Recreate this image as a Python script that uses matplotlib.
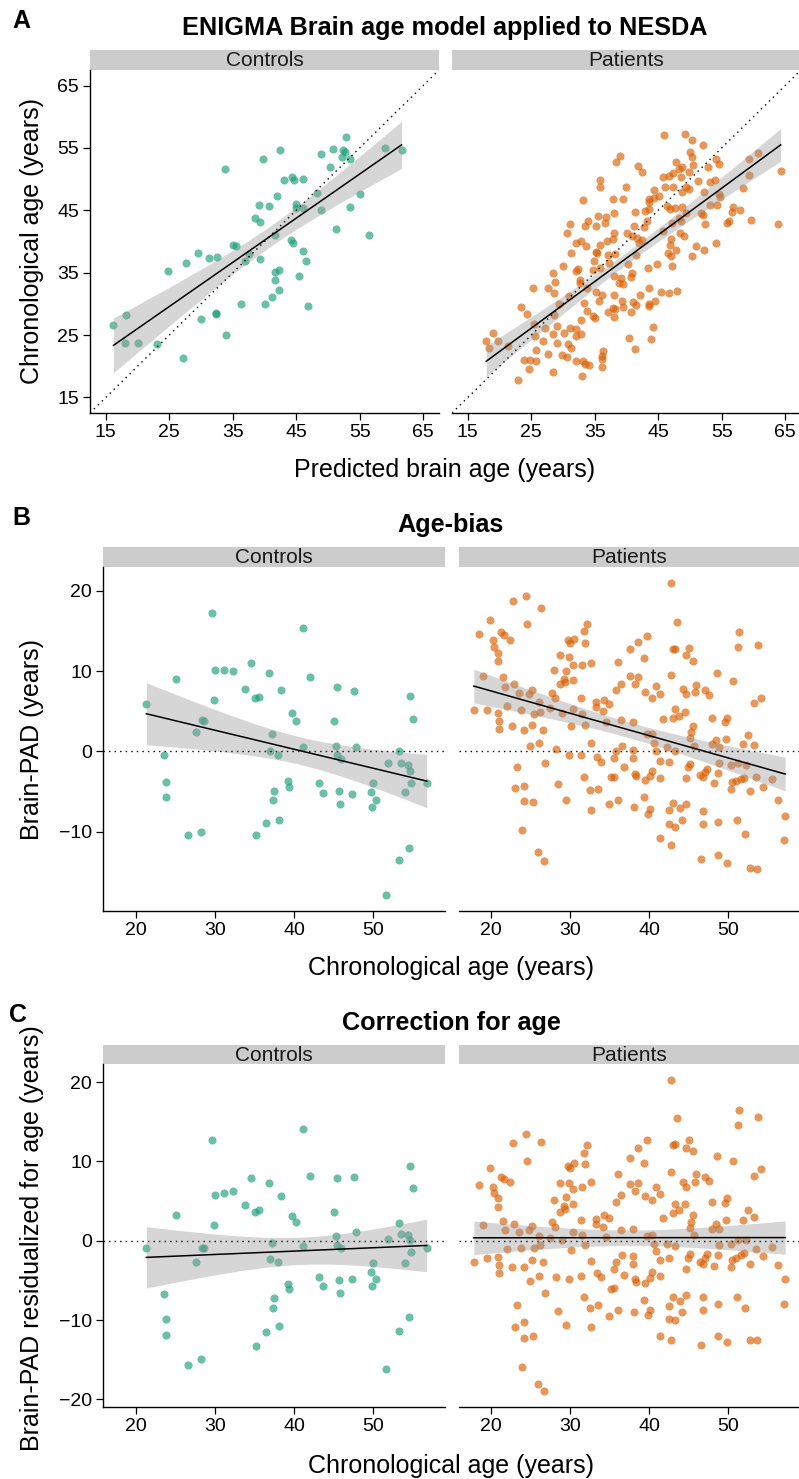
import numpy as np
import matplotlib.pyplot as plt

plt.rcParams['font.family'] = ['Liberation Sans', 'DejaVu Sans']

W, H = 799, 1479

# chronological age (years) and brain-PAD (predicted - chronological)
ctrl_age = [29.6, 41.1, 34.5, 30.0, 31.1, 32.3, 36.8, 42.0, 25.0, 33.8,
            38.4, 45.5, 47.6, 35.1, 35.5, 29.9, 54.7, 21.3, 39.7, 40.3,
            28.4, 28.6, 45.1, 55.0, 27.6, 37.2, 41.1, 45.3, 47.8, 36.9,
            53.3, 23.5, 38.0, 45.4, 46.0, 51.9, 53.6, 54.4, 54.7, 23.8,
            39.2, 39.4, 43.2, 50.0, 54.8, 56.8, 37.5, 43.7, 45.7, 47.3,
            49.8, 54.0, 23.8, 37.3, 50.4, 45.8, 49.9, 36.5, 38.1, 26.6,
            28.2, 35.2, 54.6, 53.3, 51.7]
ctrl_pad = [17.2, 15.3, 11.0, 10.1, 10.1, 10.0, 9.7, 9.2, 9.0, 7.8,
            7.6, 8.0, 7.5, 6.6, 6.75, 6.4, 6.9, 5.9, 4.75, 3.8,
            3.9, 3.8, 3.75, 4.0, 2.4, 2.1, 0.6, 0.7, 0.5, 0.1,
            0.1, -0.5, -0.5, -0.5, -1.0, -1.5, -1.4, -1.75, -2.4, -3.8,
            -3.7, -4.4, -3.9, -4.0, -4.0, -4.0, -5.0, -5.2, -5.0, -5.3,
            -5.1, -5.1, -5.75, -6.1, -6.1, -6.6, -6.9, -8.9, -8.6, -10.4,
            -10.1, -10.4, -12.1, -13.5, -17.9]

pat_age = [24.4, 22.7, 26.3, 19.8, 24.5, 32.1, 31.7, 18.4, 21.2, 21.6,
           22.4, 20.2, 29.7, 30.5, 30.0, 31.9, 20.4, 20.8, 28.7, 29.8,
           20.9, 30.3, 31.5, 32.6, 36.0, 27.9, 29.5, 19.0, 21.5, 29.2,
           30.4, 28.7, 29.3, 21.8, 22.9, 36.4, 35.8, 23.5, 24.8, 25.2,
           27.7, 28.1, 31.4, 33.2, 34.3, 34.9, 33.3, 34.1, 17.8, 19.5,
           22.0, 23.8, 20.9, 25.4, 26.2, 26.0, 27.4, 30.4, 28.9, 31.5,
           21.0, 21.0, 22.6, 24.1, 25.1, 26.5, 30.1, 31.9, 34.5, 36.4,
           32.6, 24.9, 26.1, 28.2, 36.5, 35.8,
           29.9, 31.3, 33.4, 33.9, 35.5, 36.8, 23.3, 26.8, 23.0, 24.1,
           28.4, 31.8, 35.2, 35.6, 32.5, 33.5, 24.1, 25.3, 29.5, 34.9,
           36.0, 32.6, 23.9, 25.9, 26.7,
           42.8, 43.5, 39.7, 38.6, 37.6, 43.0, 43.3, 45.0, 44.7, 45.5,
           39.3, 51.4, 51.3, 53.8, 42.8, 48.6, 50.6, 37.6, 38.6, 38.2,
           39.5, 40.9, 40.4, 41.3, 44.3, 44.6, 45.9, 45.8, 47.1, 47.6,
           54.2, 53.3, 43.3, 43.0, 43.8, 44.5, 41.7, 48.0, 49.6, 49.8,
           45.6, 45.3, 45.2, 37.9, 39.7, 40.3, 40.6, 42.3, 45.7, 48.4,
           47.9, 48.8, 49.7, 52.5, 51.9, 53.3, 38.0, 40.9, 43.3,
           37.9, 41.3, 42.5, 45.2, 44.9, 40.4, 40.1, 38.2, 38.3, 39.4,
           41.3, 44.7, 46.4, 47.0, 47.3, 46.8, 48.7, 48.2, 48.8, 50.3,
           51.2, 52.2, 50.5, 50.4, 51.0, 51.6, 52.0, 52.7, 53.5, 54.4,
           55.5, 56.3, 57.2, 57.0, 39.3, 38.1, 40.1, 39.8, 43.0, 42.5,
           43.9, 44.6, 46.8, 42.5, 43.3, 44.1, 46.8, 48.7, 51.1, 52.1,
           41.4, 42.8, 46.6, 48.7, 49.8, 52.8, 53.7]
pat_pad = [19.4, 18.7, 17.8, 16.4, 15.9, 15.8, 15.0, 14.6, 14.9, 14.5,
           13.9, 13.9, 13.9, 14.0, 13.5, 13.5, 13.0, 12.3, 12.0, 11.7,
           11.2, 10.8, 10.7, 11.0, 11.1, 10.1, 10.0, 9.4, 9.2, 9.0,
           8.9, 8.4, 8.6, 8.0, 8.4, 8.4, 7.6, 7.3, 7.2, 7.6,
           7.3, 6.6, 6.6, 6.2, 6.4, 5.9, 5.5, 5.0, 5.1, 5.1,
           5.6, 5.2, 4.8, 4.7, 4.9, 6.1, 5.4, 5.3, 4.8, 4.7,
           3.8, 2.8, 3.1, 2.7, 3.3, 2.6, 3.2, 3.3, 3.6, 3.9,
           1.1, 0.7, 1.0, 0.3, 0.7, 0.1,
           -0.5, -0.4, -0.7, -1.3, -0.8, -1.9, -1.9, -1.4, -4.6, -4.3,
           -4.1, -3.2, -3.2, -3.2, -4.8, -4.7, -6.2, -6.3, -6.1, -6.5,
           -6.0, -7.3, -9.8, -12.6, -13.7,
           21.0, 16.1, 14.4, 13.6, 12.7, 12.8, 12.8, 12.9, 12.0, 11.3,
           11.6, 14.9, 13.0, 13.3, 9.5, 9.8, 8.7, 9.4, 9.2, 8.4,
           7.4, 8.1, 6.6, 7.1, 7.8, 7.1, 8.3, 7.4, 7.6, 7.0,
           6.6, 6.0, 5.3, 4.2, 4.4, 4.9, 4.0, 4.2, 3.6, 4.2,
           3.2, 2.4, 1.7, 3.6, 2.2, 2.2, 1.0, 0.5, 0.7, 1.4,
           0.9, 0.6, 1.5, 2.0, 0.9, 0.8, 0.2, 0.0, 0.0,
           -0.8, -1.2, -1.3, -1.6, -2.0, -2.5, -3.1, -2.8, -3.1, -3.6,
           -3.3, -3.3, -2.9, -2.6, -2.2, -3.2, -2.7, -3.9, -1.4, -1.7,
           -1.4, -1.7, -3.8, -4.7, -3.7, -3.4, -3.3, -4.9, -3.2, -4.4,
           -3.5, -6.0, -8.0, -11.1, -5.7, -6.9, -7.2, -7.8, -6.4, -7.3,
           -7.1, -6.5, -7.4, -9.0, -9.4, -8.6, -9.0, -8.8, -8.6, -10.3,
           -10.8, -11.7, -13.4, -12.9, -13.9, -14.5, -14.7]

groups = ['Controls', 'Patients']
group_colors = ['#1B9E77', '#D95F02']
a_limits = (15, 65)   # scale limits of panel A, values outside are dropped

assert len(ctrl_age) == len(ctrl_pad) and len(pat_age) == len(pat_pad)

age = [np.array(ctrl_age), np.array(pat_age)]
pad = [np.array(ctrl_pad), np.array(pat_pad)]
predicted = [a + p for a, p in zip(age, pad)]

# age-bias correction fitted on the whole sample
all_age = np.concatenate(age)
all_pad = np.concatenate(pad)
slope, icpt = np.polyfit(all_age, all_pad, 1)
pad_corr = [p - (icpt + slope * a) for a, p in zip(age, pad)]


def t975(dof):
    z = 1.959964
    return z + (z**3 + z) / (4 * dof) + (5 * z**5 + 16 * z**3 + 3 * z) / (96 * dof**2)


def lm_band(x, y, n=100):
    b, a = np.polyfit(x, y, 1)
    xs = np.linspace(x.min(), x.max(), n)
    fit = a + b * xs
    dof = len(x) - 2
    s = np.sqrt(np.sum((y - (a + b * x))**2) / dof)
    se = s * np.sqrt(1 / len(x) + (xs - x.mean())**2 / np.sum((x - x.mean())**2))
    t = t975(dof)
    return xs, fit, fit - t * se, fit + t * se


fig = plt.figure(figsize=(W / 100, H / 100), dpi=100)


def px_axes(l, t, r, b):
    return fig.add_axes([l / W, 1 - b / H, (r - l) / W, (b - t) / H])


def strip(l, t, r, b, label):
    sa = px_axes(l, t, r, b)
    sa.set_facecolor('#CCCCCC')
    sa.set_xticks([])
    sa.set_yticks([])
    for sp in sa.spines.values():
        sp.set_visible(False)
    sa.text(0.5, 0.45, label, ha='center', va='center', fontsize=15,
            color='#1A1A1A', transform=sa.transAxes)


def ftext(x, y, s, **kw):
    fig.text(x / W, 1 - y / H, s, **kw)


def panel(box_x, top, bottom, strip_top, xs, ys, xlim, ylim, xticks, yticks,
          ref, keep_range=None):
    for i, (l, r) in enumerate(box_x):
        strip(l, strip_top, r, top, groups[i])
        ax = px_axes(l, top, r, bottom)
        ax.set_facecolor('none')
        x, y = xs[i], ys[i]
        if keep_range is not None:
            lo_, hi_ = keep_range
            ok = (x >= lo_) & (x <= hi_) & (y >= lo_) & (y <= hi_)
            x, y = x[ok], y[ok]
        ax.scatter(x, y, s=34, color=group_colors[i], alpha=0.65,
                   linewidths=0, zorder=2)
        gx, gy, lo, hi = lm_band(x, y)
        ax.fill_between(gx, lo, hi, color='#999999', alpha=0.4, linewidth=0,
                        zorder=3)
        ax.plot(gx, gy, color='black', lw=1.1, zorder=4)
        if ref == 'diag':
            ax.plot(xlim, xlim, color='black', lw=1.0, ls=(0, (1, 3)), zorder=5)
        else:
            ax.axhline(0, color='black', lw=1.0, ls=(0, (1, 3)), zorder=5)
        ax.set_xlim(xlim)
        ax.set_ylim(ylim)
        ax.set_xticks(xticks)
        ax.set_yticks(yticks)
        for sp in ['top', 'right']:
            ax.spines[sp].set_visible(False)
        ax.spines['bottom'].set_linewidth(1.0)
        ax.spines['left'].set_linewidth(1.0)
        ax.tick_params(length=5, width=0.9, labelsize=14, pad=3,
                       colors='black')
        if i == 1:
            ax.spines['left'].set_visible(False)
            ax.tick_params(axis='y', left=False, labelleft=False)


# panel A
panel([(90, 439), (452, 801)], 70, 413, 50, predicted, age,
      (12.5, 67.5), (12.5, 67.5), [15, 25, 35, 45, 55, 65],
      [15, 25, 35, 45, 55, 65], 'diag', keep_range=a_limits)
ftext(12, 28, 'A', fontsize=18, fontweight='bold', va='baseline')
ftext(444.5, 35, 'ENIGMA Brain age model applied to NESDA', fontsize=18.2,
      fontweight='bold', ha='center', va='baseline')
ftext(444.5, 476.7, 'Predicted brain age (years)', fontsize=18,
      ha='center', va='baseline')
ftext(32.5, 241.5, 'Chronological age (years)', fontsize=18, rotation=90,
      ha='center', va='center')

# panel B
panel([(103.3, 445.3), (458.5, 800.5)], 567, 910.7, 546.7, age, pad,
      (15.85, 59.15), (-19.85, 22.96), [20, 30, 40, 50], [-10, 0, 10, 20],
      'zero')
ftext(12, 525, 'B', fontsize=18, fontweight='bold', va='baseline')
ftext(451, 531.7, 'Age-bias', fontsize=18.2, fontweight='bold',
      ha='center', va='baseline')
ftext(451, 974.7, 'Chronological age (years)', fontsize=18,
      ha='center', va='baseline')
ftext(32.5, 739, 'Brain-PAD (years)', fontsize=18, rotation=90,
      ha='center', va='center')

# panel C
panel([(103.3, 445.3), (458.5, 800.5)], 1064.3, 1407.3, 1045, age, pad_corr,
      (15.85, 59.15), (-21.0, 22.24), [20, 30, 40, 50],
      [-20, -10, 0, 10, 20], 'zero')
ftext(9, 1022.5, 'C', fontsize=18, fontweight='bold', va='baseline')
ftext(451, 1030, 'Correction for age', fontsize=18.2, fontweight='bold',
      ha='center', va='baseline')
ftext(451, 1473, 'Chronological age (years)', fontsize=18,
      ha='center', va='baseline')
ftext(32.5, 1238, 'Brain-PAD residualized for age (years)', fontsize=18,
      rotation=90, ha='center', va='center')

fig.savefig('out.png', dpi=100)
